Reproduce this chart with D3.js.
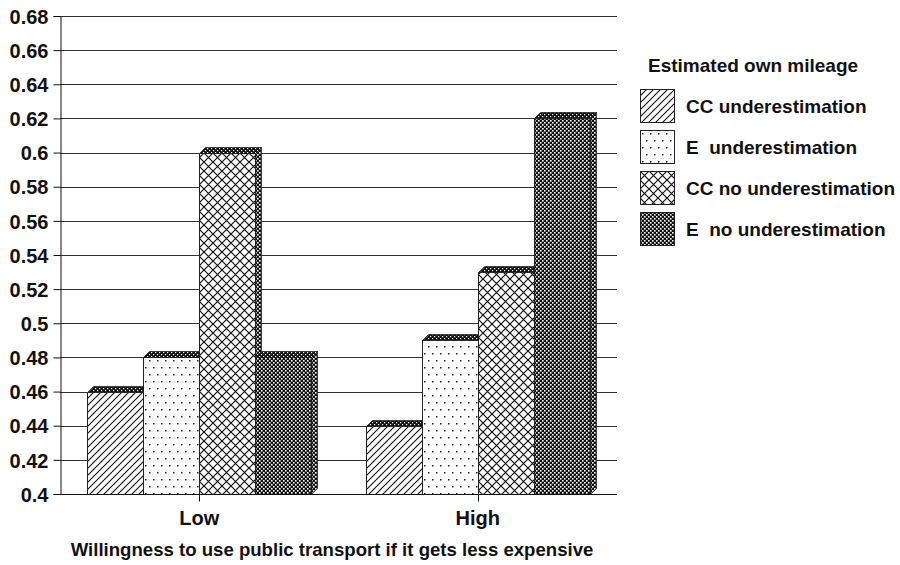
<!DOCTYPE html>
<html>
<head>
<meta charset="utf-8">
<script src="https://cdn.jsdelivr.net/npm/d3@7"></script>
<style>
  html, body { margin: 0; padding: 0; background: #fff; }
  svg { display: block; }
  text { font-family: "Liberation Sans", Arial, Helvetica, sans-serif; fill: #111; }
</style>
</head>
<body>
<svg id="chart" width="900" height="565"></svg>
<script>
// Willingness categories and the four mileage-estimate groups
const categories = ["Low", "High"];
const seriesNames = ["CC underestimation", "E  underestimation", "CC no underestimation", "E  no underestimation"];
const valuesLow  = [0.46, 0.48, 0.60, 0.48];
const valuesHigh = [0.44, 0.49, 0.53, 0.62];
const yTicks = [0.4, 0.42, 0.44, 0.46, 0.48, 0.5, 0.52, 0.54, 0.56, 0.58, 0.6, 0.62, 0.64, 0.66, 0.68];
const legendTitle = "Estimated own mileage";
const xTitle = "Willingness to use public transport if it gets less expensive";

const seriesValues = [valuesLow, valuesHigh];
const rows = categories.map((c, i) => ({ category: c, values: seriesValues[i] }));

const svg = d3.select("#chart");
const plot = { left: 60, right: 617, top: 16, bottom: 494 };
const depth = { dx: 6, dy: 6 };

// Fill patterns
const defs = svg.append("defs");
const pHatch = defs.append("pattern").attr("id", "p-hatch")
  .attr("patternUnits", "userSpaceOnUse").attr("width", 7).attr("height", 7);
pHatch.append("rect").attr("width", 7).attr("height", 7).attr("fill", "#fff");
pHatch.append("path").attr("d", "M-1,1 L1,-1 M0,7 L7,0 M6,8 L8,6")
  .attr("stroke", "#111").attr("stroke-width", 1.1);

const pDots = defs.append("pattern").attr("id", "p-dots")
  .attr("patternUnits", "userSpaceOnUse").attr("width", 8).attr("height", 14);
pDots.append("rect").attr("width", 8).attr("height", 14).attr("fill", "#fff");
pDots.append("rect").attr("x", 2).attr("y", 3).attr("width", 1.5).attr("height", 1.5).attr("fill", "#222");
pDots.append("rect").attr("x", 6).attr("y", 10).attr("width", 1.5).attr("height", 1.5).attr("fill", "#222");

const pCross = defs.append("pattern").attr("id", "p-cross")
  .attr("patternUnits", "userSpaceOnUse").attr("width", 9).attr("height", 9);
pCross.append("rect").attr("width", 9).attr("height", 9).attr("fill", "#fff");
pCross.append("path").attr("d", "M-1,-1 L10,10 M10,-1 L-1,10")
  .attr("stroke", "#111").attr("stroke-width", 1.2);

const pDense = defs.append("pattern").attr("id", "p-dense")
  .attr("patternUnits", "userSpaceOnUse").attr("width", 4).attr("height", 4);
pDense.append("rect").attr("width", 4).attr("height", 4).attr("fill", "#111");
pDense.append("rect").attr("x", 0).attr("y", 0).attr("width", 1.6).attr("height", 1.6).attr("fill", "#fff");
pDense.append("rect").attr("x", 2).attr("y", 2).attr("width", 1.6).attr("height", 1.6).attr("fill", "#fff");

const pTop = defs.append("pattern").attr("id", "p-top")
  .attr("patternUnits", "userSpaceOnUse").attr("width", 4).attr("height", 4);
pTop.append("rect").attr("width", 4).attr("height", 4).attr("fill", "#111");
pTop.append("rect").attr("x", 0).attr("y", 0).attr("width", 1.2).attr("height", 1.2).attr("fill", "#fff");
pTop.append("rect").attr("x", 2).attr("y", 2).attr("width", 1.2).attr("height", 1.2).attr("fill", "#fff");

const fills = ["url(#p-hatch)", "url(#p-dots)", "url(#p-cross)", "url(#p-dense)"];

// Scales
const y = d3.scaleLinear().domain([0.4, 0.68]).range([plot.bottom, plot.top]);
const x0 = d3.scaleBand().domain(categories).range([plot.left, plot.right]).paddingInner(0.194).paddingOuter(0.097);
const x1 = d3.scaleBand().domain(d3.range(seriesNames.length)).range([0, x0.bandwidth()]).round(true);

// Gridlines
svg.append("g").selectAll("line").data(yTicks).join("line")
  .attr("x1", plot.left).attr("x2", plot.right)
  .attr("y1", d => Math.round(y(d)) + 0.5).attr("y2", d => Math.round(y(d)) + 0.5)
  .attr("stroke", "#333").attr("stroke-width", 1);

// Y axis
const yAxis = svg.append("g").attr("transform", `translate(${plot.left + 0.5},0)`)
  .call(d3.axisLeft(y).tickValues(yTicks).tickFormat(d => String(+d.toFixed(2))).tickSizeOuter(0).tickSize(7).tickPadding(5));
yAxis.select(".domain").attr("stroke", "#111");
yAxis.selectAll(".tick line").attr("stroke", "#111");
yAxis.selectAll(".tick text")
  .style("font-family", "'Liberation Sans', Arial, sans-serif")
  .style("font-size", "20px").style("font-weight", "bold").attr("fill", "#111").attr("dy", "0.36em");

// Bars with a shallow 3D top and side (snapped to whole pixels so the fills stay crisp)
const groups = svg.append("g").selectAll("g").data(rows).join("g")
  .attr("transform", d => `translate(${Math.round(x0(d.category))},0)`);

groups.each(function(row) {
  const g = d3.select(this);
  row.values.forEach((v, i) => {
    const bx = x1(i) + 0.5, w = x1.bandwidth();
    const yt = Math.round(y(v)) + 0.5, yb = Math.round(y(0.4)) + 0.5;
    const dx = depth.dx, dy = depth.dy;
    // side face
    g.append("path")
      .attr("d", `M${bx + w},${yt} L${bx + w + dx},${yt - dy} L${bx + w + dx},${yb - dy} L${bx + w},${yb} Z`)
      .attr("fill", "url(#p-dense)").attr("stroke", "#222").attr("stroke-width", 0.8);
    // front face
    g.append("rect").attr("x", bx).attr("y", yt).attr("width", w).attr("height", yb - yt)
      .attr("fill", fills[i]).attr("stroke", "#222").attr("stroke-width", 1);
    // top face
    g.append("path")
      .attr("d", `M${bx},${yt} L${bx + dx},${yt - dy} L${bx + w + dx},${yt - dy} L${bx + w},${yt} Z`)
      .attr("fill", "url(#p-top)").attr("stroke", "#222").attr("stroke-width", 0.8);
  });
});

// X axis
const xAxisG = svg.append("g").attr("transform", `translate(0,${plot.bottom + 0.5})`);
xAxisG.append("line").attr("x1", plot.left).attr("x2", plot.right).attr("stroke", "#111");
xAxisG.selectAll(".cat-tick").data(categories).join("line").attr("class", "cat-tick")
  .attr("x1", d => Math.round(x0(d) + x0.bandwidth() / 2) + 0.5)
  .attr("x2", d => Math.round(x0(d) + x0.bandwidth() / 2) + 0.5)
  .attr("y1", 0).attr("y2", 7).attr("stroke", "#111");
xAxisG.selectAll(".cat-label").data(categories).join("text").attr("class", "cat-label")
  .attr("x", d => x0(d) + x0.bandwidth() / 2).attr("y", 30)
  .attr("text-anchor", "middle").style("font-size", "20px").style("font-weight", "bold").text(d => d);

svg.append("text").attr("x", 332).attr("y", 556).attr("text-anchor", "middle")
  .style("font-size", "18.6px").style("font-weight", "bold").text(xTitle);

// Legend
const legend = svg.append("g").attr("transform", "translate(640,0)");
legend.append("text").attr("x", 8).attr("y", 72).style("font-size", "19px").style("font-weight", "bold").text(legendTitle);
const items = legend.selectAll(".item").data(seriesNames).join("g").attr("class", "item")
  .attr("transform", (d, i) => `translate(0,${89 + i * 41})`);
items.append("rect").attr("x", 0.5).attr("y", 0.5).attr("width", 34).attr("height", 33)
  .attr("fill", (d, i) => fills[i]).attr("stroke", "#222");
items.append("text").attr("x", 46).attr("y", 24).style("font-size", "19px").style("font-weight", "bold")
  .style("white-space", "pre").attr("xml:space", "preserve").text(d => d);
</script>
</body>
</html>
